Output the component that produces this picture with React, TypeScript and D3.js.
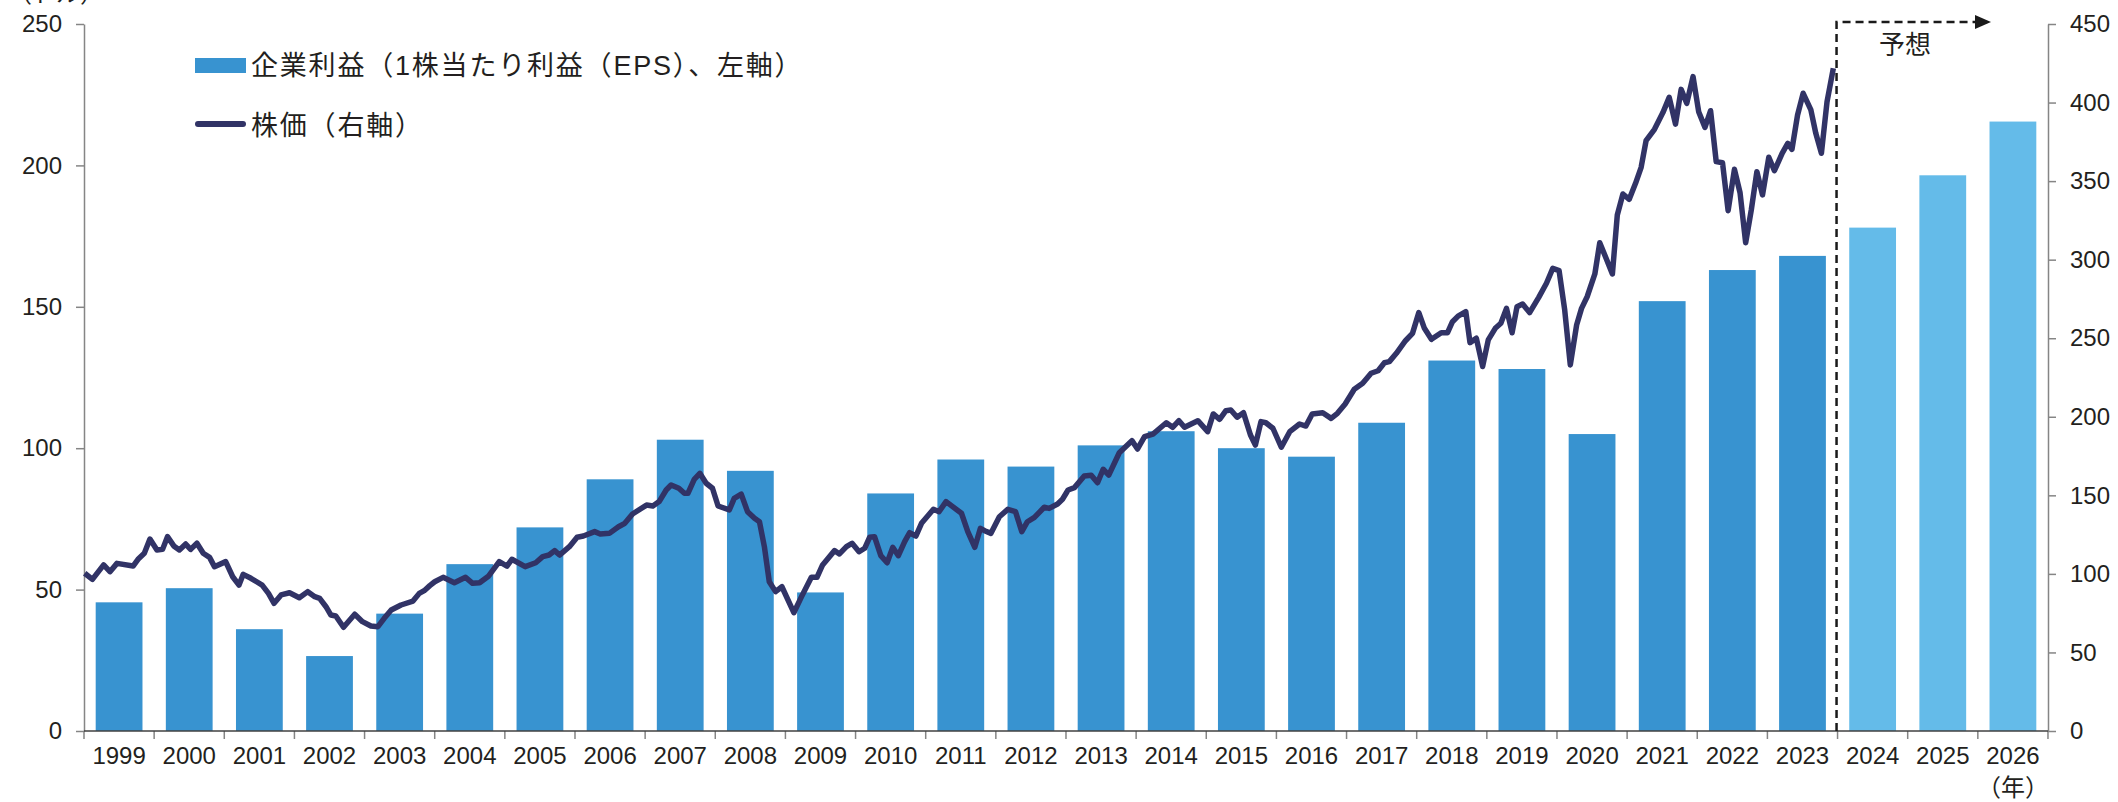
import { useEffect, useRef } from "react";
import * as d3 from "d3";

// 企業利益（EPS, 左軸）: 1999-2023 実績, 2024-2026 予想
const years = [
  "1999", "2000", "2001", "2002", "2003", "2004", "2005", "2006", "2007", "2008",
  "2009", "2010", "2011", "2012", "2013", "2014", "2015", "2016", "2017", "2018",
  "2019", "2020", "2021", "2022", "2023", "2024", "2025", "2026",
];
const eps = [
  45.5, 50.5, 36, 26.5, 41.5, 59, 72, 89, 103, 92,
  49, 84, 96, 93.5, 101, 106, 100, 97, 109, 131,
  128, 105, 152, 163, 168, 178, 196.5, 215.5,
];
const forecastYears = ["2024", "2025", "2026"];

const leftTicks = [0, 50, 100, 150, 200, 250];
const rightTicks = [0, 50, 100, 150, 200, 250, 300, 350, 400, 450];

// 株価（右軸）: 時点（年）と値
const priceDates = [
  1999.01, 1999.12, 1999.28, 1999.37, 1999.47, 1999.7, 1999.77, 1999.86, 1999.94,
  2000.04, 2000.12, 2000.19, 2000.28, 2000.36, 2000.45, 2000.52, 2000.61, 2000.7, 2000.79, 2000.86,
  2001.02, 2001.12, 2001.21, 2001.27, 2001.38, 2001.54, 2001.63, 2001.71, 2001.81, 2001.93,
  2002.07, 2002.19, 2002.29, 2002.36, 2002.45, 2002.52, 2002.59, 2002.7, 2002.86, 2002.97,
  2003.09, 2003.19, 2003.28, 2003.38, 2003.52, 2003.69, 2003.78, 2003.85, 2003.93,
  2004.0, 2004.12, 2004.28, 2004.44, 2004.54, 2004.64, 2004.77, 2004.92,
  2005.03, 2005.1, 2005.29, 2005.44, 2005.54, 2005.63, 2005.71, 2005.78, 2005.92,
  2006.03, 2006.12, 2006.28, 2006.36, 2006.49, 2006.62, 2006.71, 2006.82,
  2007.02, 2007.11, 2007.2, 2007.3, 2007.37, 2007.48, 2007.56, 2007.61, 2007.7, 2007.78, 2007.87, 2007.96,
  2008.04, 2008.2, 2008.27, 2008.37, 2008.46, 2008.56, 2008.63, 2008.7, 2008.77, 2008.86, 2008.95,
  2009.12, 2009.23, 2009.37, 2009.45, 2009.53, 2009.7, 2009.77, 2009.87, 2009.95,
  2010.05, 2010.13, 2010.2, 2010.27, 2010.36, 2010.45, 2010.53, 2010.61, 2010.7, 2010.77, 2010.86, 2010.94,
  2011.11, 2011.19, 2011.29, 2011.51, 2011.6, 2011.7, 2011.78, 2011.84, 2011.93,
  2012.05, 2012.17, 2012.28, 2012.37, 2012.45, 2012.55, 2012.69, 2012.76, 2012.88, 2012.95,
  2013.03, 2013.12, 2013.26, 2013.36, 2013.45, 2013.53, 2013.61, 2013.76, 2013.94,
  2014.02, 2014.12, 2014.24, 2014.43, 2014.52, 2014.61, 2014.69, 2014.88,
  2015.02, 2015.1, 2015.19, 2015.28, 2015.35, 2015.44, 2015.53, 2015.63, 2015.7, 2015.78, 2015.85, 2015.95,
  2016.07, 2016.19, 2016.33, 2016.42, 2016.51, 2016.66, 2016.78, 2016.87, 2016.98,
  2017.11, 2017.23, 2017.35, 2017.45, 2017.54, 2017.61, 2017.71, 2017.84, 2017.94,
  2018.03, 2018.11, 2018.21, 2018.35, 2018.44, 2018.51, 2018.59, 2018.7, 2018.76, 2018.85, 2018.94,
  2019.02, 2019.12, 2019.2, 2019.28, 2019.36, 2019.43, 2019.51, 2019.61, 2019.74, 2019.85, 2019.94,
  2020.03, 2020.11, 2020.19, 2020.28, 2020.35, 2020.43, 2020.54, 2020.61, 2020.7, 2020.79, 2020.86, 2020.94,
  2021.03, 2021.12, 2021.2, 2021.27, 2021.39, 2021.51, 2021.6, 2021.69, 2021.77, 2021.85, 2021.94,
  2022.02, 2022.11, 2022.19, 2022.27, 2022.36, 2022.44, 2022.53, 2022.61, 2022.69, 2022.77, 2022.85, 2022.93,
  2023.02, 2023.1, 2023.21, 2023.29, 2023.35, 2023.43, 2023.51, 2023.62, 2023.69, 2023.77, 2023.85, 2023.94,
];
const priceValues = [
  100.4, 96.5, 105.7, 101.4, 106.7, 105.0, 109.3, 113.1, 122.2,
  115.2, 115.6, 123.7, 117.8, 115.2, 119.0, 115.6, 119.5, 113.1, 110.5, 104.6,
  107.8, 98.2, 92.9, 99.7, 97.2, 92.9, 87.6, 81.3, 86.6, 88.0,
  84.8, 88.7, 85.5, 84.4, 79.1, 73.8, 73.2, 66.0, 74.3, 69.6,
  66.8, 66.4, 71.7, 77.0, 80.2, 82.7, 87.6, 89.3, 92.5,
  95.0, 97.8, 94.4, 97.8, 94.0, 94.4, 98.7, 107.8,
  105.0, 109.3, 104.6, 107.1, 111.0, 112.0, 114.8, 112.0, 117.3,
  123.3, 124.1, 126.9, 125.4, 125.8, 130.0, 132.2, 138.1,
  143.8, 143.2, 146.0, 153.4, 156.6, 154.5, 151.3, 151.3, 160.2, 164.0, 157.7, 154.5,
  143.2, 140.7, 148.1, 150.8, 139.6, 135.4, 133.2, 117.3, 95.0, 88.7, 91.8,
  75.3, 85.5, 97.8, 97.8, 105.7, 114.8, 112.7, 117.3, 119.5,
  114.1, 116.3, 123.3, 123.7, 111.6, 107.1, 116.9, 111.6, 120.5, 126.2, 124.1, 132.2,
  141.1, 139.6, 146.0, 138.6, 126.9, 116.9, 129.0, 127.5, 125.8,
  136.4, 141.1, 139.6, 126.9, 133.2, 136.0, 142.4, 141.7, 144.5, 147.5,
  153.4, 154.9, 162.3, 162.8, 158.0, 166.6, 162.9, 177.1, 184.8,
  179.5, 187.3, 189.0, 196.2, 193.3, 197.5, 193.3, 197.5,
  190.5, 201.8, 198.4, 203.9, 204.3, 199.7, 202.6, 188.4, 182.0, 196.9, 196.2, 192.7,
  180.6, 190.5, 195.4, 194.1, 201.8, 202.6, 199.0, 202.2, 208.1,
  217.5, 221.3, 227.7, 229.3, 234.4, 235.1, 240.4, 248.4, 253.1,
  266.3, 256.3, 249.3, 253.5, 253.5, 260.5, 264.1, 266.9, 247.2, 250.0, 232.0,
  248.9, 256.3, 259.5, 269.0, 253.5, 270.1, 271.8, 266.3, 276.0, 285.0, 294.5,
  293.0, 268.0, 233.0, 258.4, 269.0, 276.4, 290.9, 310.8, 300.9, 290.9, 328.4, 341.8,
  338.4, 348.6, 358.8, 375.7, 383.0, 393.6, 403.3, 386.3, 408.4, 399.5, 416.5,
  394.2, 384.2, 394.8, 362.4, 361.7, 331.2, 357.5, 342.6, 310.8, 331.6, 356.0, 341.2,
  365.2, 356.6, 367.7, 374.0, 370.2, 392.1, 405.9, 395.3, 380.4, 367.7, 400.5, 421.8,
];

const W = 2118;
const H = 802;
const FONT = "'Liberation Sans', Arial, 'Noto Sans CJK JP', sans-serif";
const TEXT = "#231f20";

const App = () => {
  const ref = useRef<SVGSVGElement>(null);

  useEffect(() => {
    const svg = d3.select(ref.current);
    svg.selectAll("*").remove();

    const left = 84;
    const right = 2048;
    const top = 24;
    const bottom = 731;

    const x = d3.scaleBand<string>()
      .domain(years)
      .range([left, right])
      .paddingInner(0.333)
      .paddingOuter(0.1667);
    const step = x.step();
    const t = d3.scaleLinear()
      .domain([1999, 2024])
      .range([left, left + step * 25]);
    const yL = d3.scaleLinear().domain([0, 250]).range([bottom, top]);
    const yR = d3.scaleLinear().domain([0, 450]).range([bottom, top]);

    // bars
    svg.append("g")
      .selectAll("rect")
      .data(years)
      .enter()
      .append("rect")
        .attr("x", (d) => x(d)!)
        .attr("y", (d, i) => yL(eps[i]))
        .attr("width", x.bandwidth())
        .attr("height", (d, i) => bottom - yL(eps[i]))
        .attr("fill", (d) => forecastYears.includes(d) ? "#64bbe9" : "#3893d0");

    // left axis
    const gl = svg.append("g")
      .attr("transform", `translate(${left},0)`)
      .call(d3.axisLeft(yL).tickValues(leftTicks).tickSize(8).tickSizeOuter(0).tickPadding(14));
    gl.attr("font-size", 24).attr("font-family", FONT);
    gl.select(".domain").attr("stroke", "#858585").attr("stroke-width", 1.5);
    gl.selectAll(".tick line").attr("stroke", "#858585").attr("stroke-width", 1.5);
    gl.selectAll(".tick text").attr("fill", TEXT);

    // right axis
    const gr = svg.append("g")
      .attr("transform", `translate(${right},0)`)
      .call(d3.axisRight(yR).tickValues(rightTicks).tickSize(8).tickSizeOuter(0).tickPadding(14));
    gr.attr("font-size", 24).attr("font-family", FONT);
    gr.select(".domain").attr("stroke", "#858585").attr("stroke-width", 1.5);
    gr.selectAll(".tick line").attr("stroke", "#858585").attr("stroke-width", 1.5);
    gr.selectAll(".tick text").attr("fill", TEXT);

    // bottom axis: labels centred in bands, ticks at band edges
    const gb = svg.append("g")
      .attr("transform", `translate(0,${bottom})`)
      .call(d3.axisBottom(x).tickSize(0).tickPadding(16));
    gb.attr("font-size", 24).attr("font-family", FONT);
    gb.select(".domain").remove();
    gb.selectAll(".tick text").attr("fill", TEXT);
    gb.selectAll("line.edge")
      .data(d3.range(years.length + 1))
      .enter()
      .append("line")
        .attr("class", "edge")
        .attr("x1", (i) => left + i * step)
        .attr("x2", (i) => left + i * step)
        .attr("y1", 0)
        .attr("y2", 8)
        .attr("stroke", "#858585")
        .attr("stroke-width", 1.5);
    gb.append("line")
      .attr("x1", left)
      .attr("x2", right)
      .attr("y1", 0)
      .attr("y2", 0)
      .attr("stroke", "#404040")
      .attr("stroke-width", 1.5);
    svg.append("text")
      .attr("x", x("2026")! + x.bandwidth() / 2)
      .attr("y", 796)
      .attr("text-anchor", "middle")
      .attr("font-size", 24)
      .attr("font-family", FONT)
      .attr("fill", TEXT)
      .text("（年）");

    // unit label, cut off at the top edge as in the source
    svg.append("text")
      .attr("x", 56)
      .attr("y", 2)
      .attr("text-anchor", "middle")
      .attr("font-size", 24)
      .attr("font-family", FONT)
      .attr("fill", TEXT)
      .text("（ドル）");

    // forecast marker
    const fx = t(2024) - 1;
    svg.append("path")
      .attr("d", `M${fx},${bottom} V22 H1976`)
      .attr("fill", "none")
      .attr("stroke", "#1a1a1a")
      .attr("stroke-width", 2.5)
      .attr("stroke-dasharray", "8 5");
    svg.append("path")
      .attr("d", "M1975,15 L1991,22 L1975,29 Z")
      .attr("fill", "#1a1a1a");
    svg.append("text")
      .attr("x", 1905)
      .attr("y", 45)
      .attr("dominant-baseline", "central")
      .attr("text-anchor", "middle")
      .attr("font-size", 26)
      .attr("font-family", FONT)
      .attr("fill", TEXT)
      .text("予想");

    // price line
    const pts: [number, number][] = priceDates.map((d, i) => [d, priceValues[i]]);
    svg.append("path")
      .datum(pts)
      .attr("fill", "none")
      .attr("stroke", "#313366")
      .attr("stroke-width", 5.5)
      .attr("stroke-linejoin", "round")
      .attr("d", d3.line<[number, number]>()
        .x((p) => t(p[0]))
        .y((p) => yR(p[1]))
      );

    // legend
    const lg = svg.append("g")
      .attr("font-family", FONT)
      .attr("font-size", 27)
      .attr("fill", TEXT)
      .attr("letter-spacing", 1.8);
    lg.append("rect")
      .attr("x", 195)
      .attr("y", 58)
      .attr("width", 51)
      .attr("height", 15)
      .attr("fill", "#3893d0");
    lg.append("text")
      .attr("x", 251)
      .attr("y", 66)
      .attr("dominant-baseline", "central")
      .text("企業利益（1株当たり利益（EPS）、左軸）");
    lg.append("line")
      .attr("x1", 198)
      .attr("x2", 243)
      .attr("y1", 124)
      .attr("y2", 124)
      .attr("stroke", "#313366")
      .attr("stroke-width", 6)
      .attr("stroke-linecap", "round");
    lg.append("text")
      .attr("x", 251)
      .attr("y", 126)
      .attr("dominant-baseline", "central")
      .text("株価（右軸）");
  });

  return (
    <svg
      ref={ref}
      width={W}
      height={H}
      style={{ position: "absolute", left: 0, top: 0, background: "#fff" }}
    />
  );
};

export default App;
